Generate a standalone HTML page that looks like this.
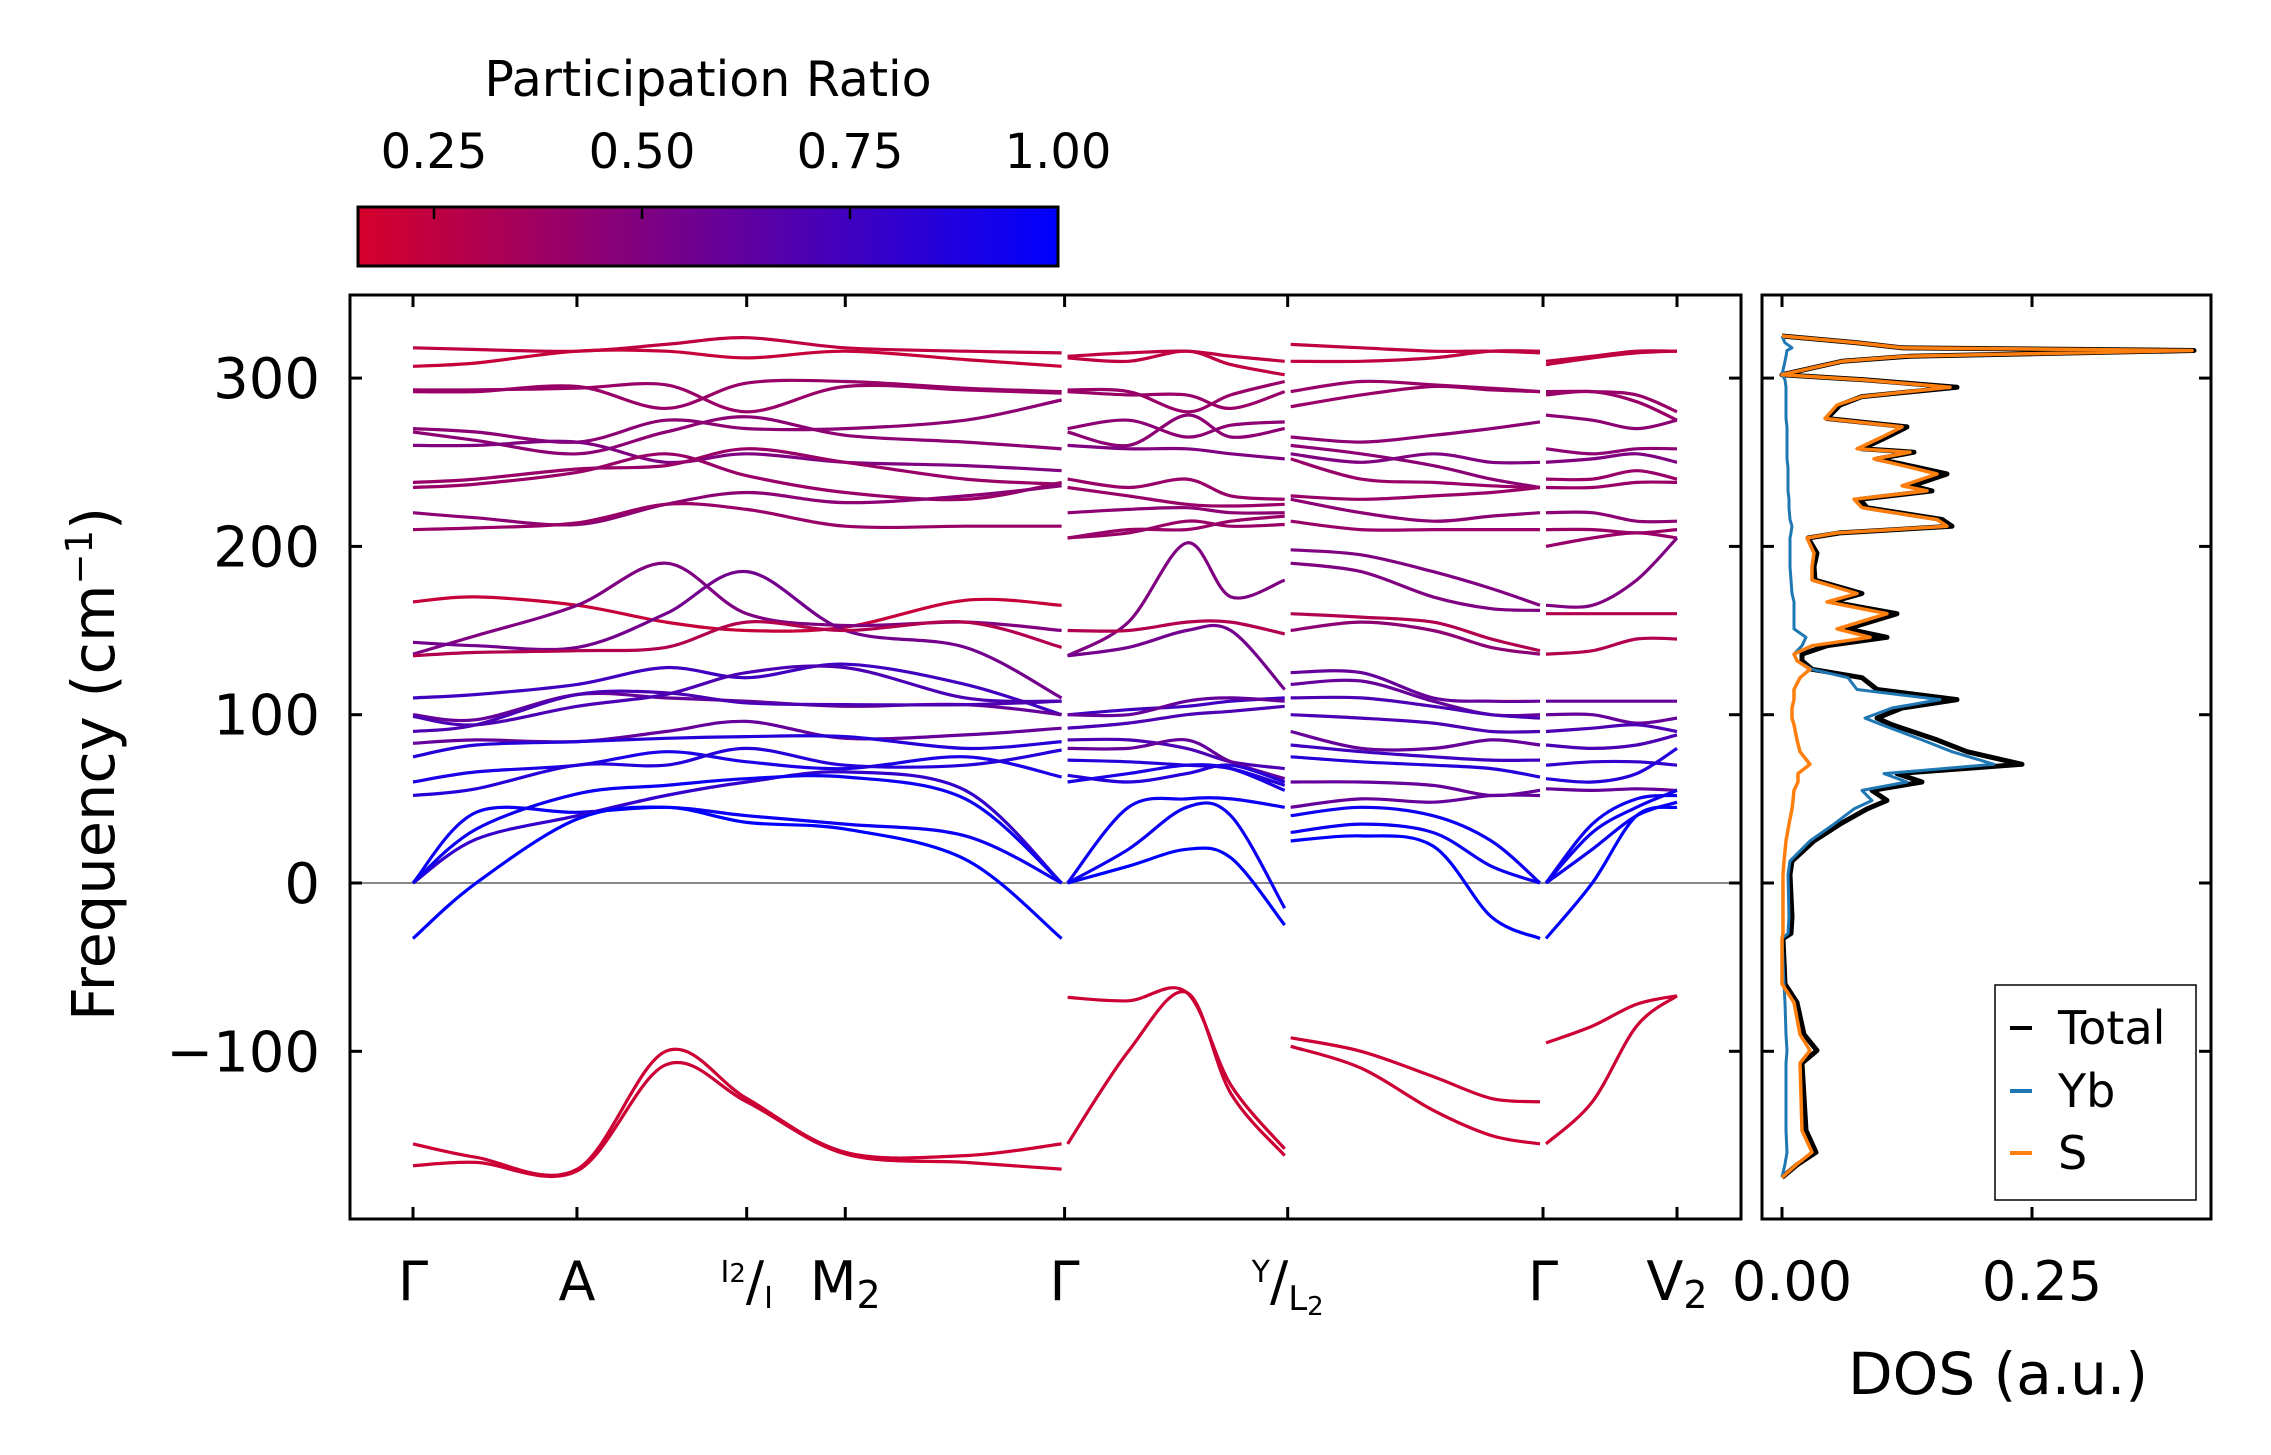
<!DOCTYPE html>
<html><head><meta charset="utf-8"><style>
html,body{margin:0;padding:0;background:#fff}
svg{display:block;font-family:"DejaVu Sans","Liberation Sans",sans-serif}
</style></head><body>
<svg id="fig" width="2271" height="1455" viewBox="0 0 2271 1455" xmlns="http://www.w3.org/2000/svg">
<defs>
<linearGradient id="cbgrad" x1="0" x2="1" y1="0" y2="0">
<stop offset="0" stop-color="rgb(214,0,42)"/><stop offset="1" stop-color="rgb(0,0,255)"/>
</linearGradient>
<clipPath id="mainclip"><rect x="352" y="297" width="1388" height="920"/></clipPath>
<clipPath id="dosclip"><rect x="1764" y="297" width="446" height="920"/></clipPath>
</defs>
<g id="colorbar">
<text x="708" y="96" font-size="49" text-anchor="middle">Participation Ratio</text>
<rect x="358" y="207" width="700" height="59" fill="url(#cbgrad)" stroke="#000" stroke-width="3"/>
</g>
<g id="bands" clip-path="url(#mainclip)"></g>
<g id="dos" clip-path="url(#dosclip)"></g>
<g id="axes"></g>
<text transform="translate(114,764) rotate(-90)" font-size="59" text-anchor="middle">Frequency (cm<tspan dy="-22" font-size="37">−1</tspan><tspan dy="22">)</tspan></text>
<text x="1998" y="1394" font-size="58" text-anchor="middle">DOS (a.u.)</text>
<g>
<rect x="1995" y="985" width="201" height="215" fill="#fff" stroke="#000" stroke-width="1.5"/>
<line x1="2010" x2="2032" y1="1028" y2="1028" stroke="#000" stroke-width="4"/>
<text x="2058" y="1044" font-size="46">Total</text>
<line x1="2010" x2="2032" y1="1091" y2="1091" stroke="#1f77b4" stroke-width="4"/>
<text x="2058" y="1107" font-size="46">Yb</text>
<line x1="2010" x2="2032" y1="1153" y2="1153" stroke="#ff7f0e" stroke-width="4"/>
<text x="2058" y="1169" font-size="46">S</text>
</g>
</svg>
<script>
const NS="http://www.w3.org/2000/svg";
// ---- data ----
const kTicks=[0,0.1297,0.264,0.342,0.5155,0.692,0.894,1];
const freqTicks=[-100,0,100,200,300];
const freqTickLabels=["−100","0","100","200","300"];
const cbTicks=[0.25,0.5,0.75,1.0];
const cbTickLabels=["0.25","0.50","0.75","1.00"];
const dosTicks=[0,0.25];
const dosTickLabels=["0.00","0.25"];

const seg1K=[0,0.05,0.13,0.2,0.264,0.342,0.437,0.5155];
const seg1Bands=[
[318,317,316,320,324,318,316,315],
[307,309,316,316,312,316,311,307],
[292,292,295,282,297,298,294,292],
[293,293,294,296,280,295,293,291],
[270,268,262,275,270,270,275,287],
[268,263,255,268,277,266,262,258],
[260,260,262,250,255,250,248,245],
[238,240,246,248,258,250,240,237],
[235,237,244,255,242,232,228,238],
[220,217,213,225,232,226,230,236],
[210,211,214,225,222,212,212,212],
[167,170,165,155,150,152,168,165],
[136,147,165,190,160,153,155,150],
[143,141,140,160,185,150,140,110],
[135,137,138,140,155,150,155,140],
[110,112,118,128,122,130,118,100],
[100,97,112,110,108,105,106,100],
[99,94,105,112,125,128,110,108],
[90,94,112,113,107,106,106,108],
[83,85,84,90,96,86,88,92],
[75,82,84,86,87,87,80,84],
[60,66,70,78,72,68,75,63],
[52,56,70,70,80,70,70,79],
[0,42,42,45,40,35,28,0],
[0,26,40,52,60,66,55,0],
[0,32,53,58,62,63,50,0],
[-33,0,38,45,36,32,14,-33],
[-155,-163,-170,-100,-128,-160,-162,-155],
[-168,-166,-171,-108,-130,-161,-166,-170]
];
const seg1P=[0.25,0.22,0.4,0.4,0.45,0.45,0.5,0.4,0.4,0.45,0.4,0.22,0.5,0.55,0.3,0.75,0.6,0.7,0.7,0.6,0.85,0.9,0.85,0.95,0.8,0.95,1.0,0.2,0.2];

const seg2K=[0.5155,0.566,0.612,0.647,0.692];
const seg2Bands=[
[313,315,316,313,310],
[312,310,316,308,302],
[293,292,280,290,298],
[292,290,290,282,292],
[270,275,265,272,274],
[268,260,278,265,270],
[260,258,258,255,252],
[240,235,240,230,228],
[235,230,225,224,225],
[220,222,223,220,220],
[205,210,210,215,218],
[205,208,215,212,213],
[135,155,202,170,180],
[150,150,155,155,148],
[135,140,150,150,115],
[100,103,105,108,110],
[100,100,108,110,108],
[92,95,100,102,105],
[85,85,80,72,68],
[80,80,85,72,62],
[73,72,70,68,58],
[64,60,65,70,60],
[60,65,70,68,55],
[0,45,50,50,45],
[0,20,45,40,-15],
[0,10,20,15,-25],
[-68,-70,-65,-120,-158],
[-155,-100,-65,-125,-162]
];
const seg2P=[0.25,0.25,0.4,0.4,0.45,0.45,0.5,0.4,0.4,0.45,0.4,0.4,0.5,0.3,0.55,0.75,0.6,0.7,0.7,0.6,0.85,0.85,0.9,0.95,0.95,1.0,0.2,0.2];

const seg3K=[0.692,0.75,0.807,0.853,0.894];
const seg3Bands=[
[320,318,316,316,315],
[310,310,312,316,316],
[292,298,296,294,292],
[283,290,295,293,292],
[265,262,266,270,274],
[260,255,248,240,235],
[255,250,255,250,250],
[252,240,238,236,235],
[230,228,230,232,235],
[228,220,215,218,220],
[215,210,210,210,210],
[198,195,185,175,165],
[190,185,170,163,162],
[160,158,155,145,138],
[150,155,150,140,136],
[125,125,110,108,108],
[118,120,108,100,100],
[110,110,105,100,98],
[100,98,95,90,90],
[90,80,80,85,82],
[82,78,75,73,73],
[75,72,70,68,63],
[60,60,58,52,55],
[45,50,48,52,52],
[40,45,40,25,0],
[30,35,30,10,0],
[25,28,22,-20,-33],
[-92,-100,-115,-128,-130],
[-97,-110,-135,-150,-155]
];
const seg3P=[0.25,0.25,0.4,0.4,0.45,0.45,0.5,0.4,0.4,0.45,0.4,0.5,0.5,0.3,0.45,0.6,0.6,0.7,0.7,0.6,0.75,0.85,0.6,0.6,0.95,0.95,1.0,0.2,0.2];

const seg4K=[0.894,0.933,0.968,1];
const seg4Bands=[
[310,313,316,316],
[308,312,315,316],
[292,292,290,280],
[290,292,286,275],
[278,275,270,275],
[258,255,258,258],
[250,252,255,250],
[240,240,245,240],
[235,235,238,238],
[220,220,215,215],
[210,210,208,210],
[200,205,208,205],
[165,165,180,205],
[160,160,160,160],
[136,138,145,145],
[108,108,108,108],
[100,100,95,98],
[90,92,94,90],
[82,80,82,88],
[70,72,72,70],
[62,60,65,80],
[56,55,56,55],
[0,20,40,48],
[0,30,45,55],
[0,35,50,52],
[-33,0,40,45],
[-95,-85,-72,-67],
[-155,-130,-85,-67]
];
const seg4P=[0.25,0.25,0.4,0.4,0.45,0.45,0.5,0.4,0.4,0.45,0.4,0.4,0.5,0.3,0.3,0.6,0.6,0.7,0.7,0.8,0.85,0.6,0.95,0.95,0.95,1.0,0.2,0.2];

const dosFreq=[325,321,318,316.4,313,310,302,299,294.6,289,284,276,271,265,258,256,252,247,243,236,233,228,223,216,212,208,205,196,188,180,172,167,160,151,146,141,136,132,127,122,115,109,104,98,94,85,78,70.5,65,60,55,49,44,35,25,13,5,-20,-30,-33,-60,-71,-90,-99.5,-107,-147,-160,-167,-175];
const dosS=[0,0.075,0.12,0.41,0.125,0.06,0,0.08,0.168,0.08,0.055,0.043,0.12,0.10,0.075,0.128,0.092,0.128,0.155,0.12,0.145,0.072,0.08,0.155,0.165,0.055,0.025,0.032,0.03,0.03,0.075,0.045,0.105,0.055,0.088,0.03,0.012,0.015,0.028,0.018,0.012,0.012,0.01,0.01,0.012,0.015,0.018,0.028,0.016,0.016,0.012,0.011,0.01,0.007,0.004,0.002,0.001,0.001,0.001,0,0,0.012,0.018,0.028,0.018,0.02,0.03,0.015,0];
const dosYb=[0,0.003,0.01,0.005,0.004,0.003,0,0.003,0.004,0.004,0.004,0.004,0.005,0.005,0.005,0.005,0.005,0.006,0.006,0.006,0.006,0.007,0.007,0.008,0.01,0.009,0.008,0.008,0.008,0.009,0.01,0.012,0.012,0.012,0.024,0.02,0.012,0.015,0.03,0.066,0.075,0.158,0.11,0.083,0.1,0.14,0.17,0.212,0.102,0.125,0.08,0.09,0.072,0.052,0.028,0.008,0.006,0.007,0.006,0,0.002,0.003,0.004,0.005,0.004,0.004,0.005,0.003,0];
const dosTotal=[0,0.075,0.12,0.412,0.128,0.06,0,0.082,0.175,0.08,0.058,0.045,0.125,0.105,0.08,0.132,0.095,0.135,0.165,0.13,0.15,0.078,0.085,0.16,0.17,0.058,0.026,0.035,0.032,0.033,0.08,0.05,0.115,0.065,0.105,0.045,0.02,0.02,0.03,0.08,0.095,0.175,0.12,0.095,0.11,0.155,0.185,0.24,0.115,0.14,0.09,0.105,0.085,0.058,0.032,0.01,0.008,0.01,0.009,0.001,0.003,0.015,0.022,0.035,0.02,0.024,0.034,0.016,0];

// ---- scales ----
function xK(k){return 413+k*1264;}
function yF(f){return 883-f*1.683;}
function xDos(d){return 1782+d*1000;}
function xCb(p){return 434+(p-0.25)*832;}
function pColor(p){let t=(p-0.159)/(1-0.159);t=Math.max(0,Math.min(1,t));return `rgb(${Math.round(214*(1-t))},0,${Math.round(42+213*t)})`;}
function smoothPath(pts){
  let d=`M${pts[0][0].toFixed(1)},${pts[0][1].toFixed(1)}`;
  for(let i=0;i<pts.length-1;i++){
    const p0=pts[Math.max(0,i-1)],p1=pts[i],p2=pts[i+1],p3=pts[Math.min(pts.length-1,i+2)];
    const c1x=p1[0]+(p2[0]-p0[0])/6,c1y=p1[1]+(p2[1]-p0[1])/6;
    const c2x=p2[0]-(p3[0]-p1[0])/6,c2y=p2[1]-(p3[1]-p1[1])/6;
    d+=`C${c1x.toFixed(1)},${c1y.toFixed(1)} ${c2x.toFixed(1)},${c2y.toFixed(1)} ${p2[0].toFixed(1)},${p2[1].toFixed(1)}`;
  }
  return d;
}
function mk(tag,attrs,parent){const e=document.createElementNS(NS,tag);for(const a in attrs)e.setAttribute(a,attrs[a]);parent.appendChild(e);return e;}

const bandsG=document.getElementById('bands');
const axesG=document.getElementById('axes');
const dosG=document.getElementById('dos');

const zl=mk('line',{x1:350,x2:1741,y1:yF(0),y2:yF(0),stroke:'#888','stroke-width':2},bandsG);



const segments=[[seg1K,seg1Bands,seg1P],[seg2K,seg2Bands,seg2P],[seg3K,seg3Bands,seg3P],[seg4K,seg4Bands,seg4P]];
segments.forEach((s,si)=>{
  const [ks,bands,ps]=s;
  bands.forEach((b,bi)=>{
    const pts=b.map((f,i)=>[xK(ks[i])+(i===0&&si>0?3:0)-(i===ks.length-1&&si<3?3:0),yF(f)]);
    const path=mk('path',{d:smoothPath(pts),fill:'none',stroke:pColor(ps[bi]),'stroke-width':3.2,'stroke-linecap':'butt'},bandsG);
    
    
  });
});

function dosLine(vals,color,w,name){
  const pts=vals.map((v,i)=>[xDos(v),yF(dosFreq[i])]);
  const d='M'+pts.map(p=>p[0].toFixed(1)+','+p[1].toFixed(1)).join('L');
  const e=mk('path',{d:d,fill:'none',stroke:color,'stroke-width':w,'stroke-linejoin':'round'},dosG);
  
  
}
dosLine(dosTotal,'#000',5,'dos-total-line');
dosLine(dosYb,'#1f77b4',3,'dos-yb-line');
dosLine(dosS,'#ff7f0e',3.5,'dos-s-line');

const f1=mk('rect',{x:350,y:295,width:1391,height:924,fill:'none',stroke:'#000','stroke-width':3},axesG);


const f2=mk('rect',{x:1762,y:295,width:449,height:924,fill:'none',stroke:'#000','stroke-width':3},axesG);



freqTicks.forEach((f,i)=>{
  const y=yF(f);
  [[350,362],[1729,1741],[1762,1774],[2199,2211]].forEach(([a,b])=>{
    const t=mk('line',{x1:a,x2:b,y1:y,y2:y,stroke:'#000','stroke-width':3},axesG);
    
    
  });
  const lab=mk('text',{x:320,y:y+20,'font-size':56,'text-anchor':'end'},axesG);
  lab.textContent=freqTickLabels[i];
  
  
});
kTicks.forEach(k=>{
  const x=xK(k);
  [[295,307],[1207,1219]].forEach(([a,b])=>{
    const t=mk('line',{x1:x,x2:x,y1:a,y2:b,stroke:'#000','stroke-width':3},axesG);
    
    
  });
});
const kLabelDefs=[
  [0,'<tspan>Γ</tspan>'],
  [1,'<tspan>A</tspan>'],
  [2,'<tspan dy="-18" font-size="30">I</tspan><tspan font-size="26" dy="0">2</tspan><tspan dy="18">/</tspan><tspan font-size="30" dy="8">I</tspan>'],
  [3,'<tspan>M</tspan><tspan font-size="38" dy="8">2</tspan>'],
  [4,'<tspan>Γ</tspan>'],
  [5,'<tspan dy="-18" font-size="30">Y</tspan><tspan dy="18">/</tspan><tspan font-size="34" dy="10">L</tspan><tspan font-size="26" dy="5">2</tspan>'],
  [6,'<tspan>Γ</tspan>'],
  [7,'<tspan>V</tspan><tspan font-size="38" dy="8">2</tspan>']
];
kLabelDefs.forEach(([i,html])=>{
  const t=mk('text',{x:xK(kTicks[i]),y:1300,'font-size':54,'text-anchor':'middle'},axesG);
  t.innerHTML=html;
  
  
});
dosTicks.forEach((d,i)=>{
  const x=xDos(d);
  [[295,307],[1207,1219]].forEach(([a,b])=>{
    const t=mk('line',{x1:x,x2:x,y1:a,y2:b,stroke:'#000','stroke-width':3},axesG);
    
    
  });
  const lab=mk('text',{x:x+10,y:1300,'font-size':54,'text-anchor':'middle'},axesG);
  lab.textContent=dosTickLabels[i];
  
  
});
const cbG=document.getElementById('colorbar');
cbTicks.forEach((p,i)=>{
  const x=xCb(p);
  const t=mk('line',{x1:x,x2:x,y1:207,y2:219,stroke:'#000','stroke-width':2.5},cbG);
  
  
  const lab=mk('text',{x:x,y:168,'font-size':48,'text-anchor':'middle'},cbG);
  lab.textContent=cbTickLabels[i];
  
  
});
</script>
</body></html>
